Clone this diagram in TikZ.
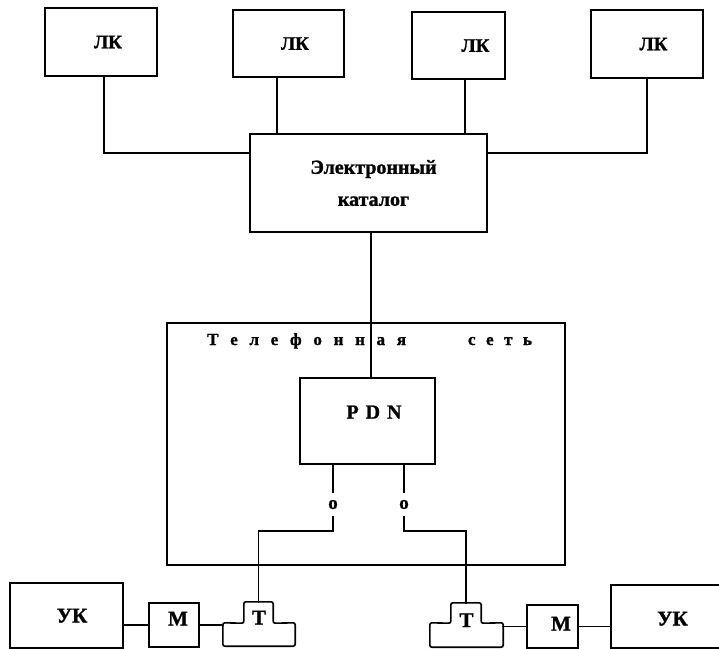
\documentclass[tikz,border=0pt]{standalone}
\usepackage{fontspec}
\setmainfont{Liberation Serif}[BoldFeatures={FakeBold=1.2}]
\usetikzlibrary{calc}
\newcommand\offtext[3]{\raisebox{#2}[0pt][0pt]{\hspace*{#1}#3\hspace*{-#1}}}
\newcommand\ls{\hspace{11.7bp}}
\newcommand\lsw{\hspace{10.5bp}}
\tikzset{
  ln/.style={line width=1.6bp, line cap=rect},
  box/.style={draw, line width=1.6bp, inner sep=0pt, font=\bfseries\fontsize{19bp}{22bp}\selectfont},
  lowbox/.style={draw, line width=1.6bp, inner sep=0pt, font=\bfseries\fontsize{21bp}{24bp}\selectfont},
  bare/.style={inner sep=0pt, font=\bfseries\fontsize{21bp}{24bp}\selectfont},
  olabel/.style={inner sep=0pt, minimum height=25bp, minimum width=10bp, font=\bfseries\fontsize{19bp}{20bp}\selectfont},
  titletext/.style={inner sep=0pt, font=\bfseries\fontsize{17bp}{20bp}\selectfont},
}
\begin{document}
\begin{tikzpicture}[x=1bp,y=-1bp]
\useasboundingbox (0,0) rectangle (719,649);
% top row
\node[box, minimum width=112bp, minimum height=68bp] (lk1) at (101,42) {\offtext{7bp}{-6.3bp}{ЛК}};
\node[box, minimum width=111bp, minimum height=67bp] (lk2) at (288.5,43.5) {\offtext{6.5bp}{-6.3bp}{ЛК}};
\node[box, minimum width=93bp, minimum height=67bp] (lk3) at (458.5,45.5) {\offtext{17bp}{-6.3bp}{ЛК}};
\node[box, minimum width=112bp, minimum height=68bp] (lk4) at (647,44) {\offtext{6.5bp}{-6.3bp}{ЛК}};
% catalog
\node[box, minimum width=237bp, minimum height=98bp, align=center,
      font=\bfseries\fontsize{20bp}{32bp}\selectfont] (cat) at (368.5,183)
      {\hspace*{10bp}Электронный\\\hspace*{10bp}каталог};
% telephone network
\node[draw, line width=1.6bp, inner sep=0pt, minimum width=398bp, minimum height=242bp] (tel) at (366,444) {};
\node[titletext, anchor=base west] (title) at (207,345)
  {Т\ls е\ls л\ls е\ls ф\ls о\ls н\ls н\ls а\ls я\hspace{62bp}с\lsw е\lsw т\lsw ь};
\node[box, minimum width=135bp, minimum height=86bp, font=\bfseries\fontsize{20bp}{22bp}\selectfont] (pdn) at (367.5,421)
  {\offtext{6.5bp}{2.4bp}{P\hspace{7bp}D\hspace{7bp}N}};
\node[olabel] (oL) at (333,504.5) {o};
\node[olabel] (oR) at (404,504.5) {o};
\coordinate (bL) at (333,531);
\coordinate (bR) at (404,531);
% bottom row
\node[lowbox, minimum width=113bp, minimum height=65bp] (ukL) at (66.5,615.5) {\offtext{5.5bp}{-7bp}{УК}};
\node[lowbox, minimum width=50bp, minimum height=44bp] (mL) at (174,625) {\offtext{4bp}{-0.5bp}{М}};
\node[bare, minimum width=29bp, minimum height=21bp] (tLtop) at (258.5,612.5) {\offtext{0.5bp}{-12bp}{Т}};
\node[inner sep=0pt, minimum width=72bp, minimum height=23bp] (tLbot) at (259,634.5) {};
\node[bare, minimum width=30bp, minimum height=20bp] (tRtop) at (466,613) {\offtext{0.5bp}{-14bp}{Т}};
\node[inner sep=0pt, minimum width=73bp, minimum height=24bp] (tRbot) at (466.5,635) {};
\node[lowbox, minimum width=51bp, minimum height=43bp] (mR) at (552.5,626.5) {\offtext{8.5bp}{-4bp}{М}};
\node[bare, minimum width=108bp, minimum height=63bp] (ukR) at (665,616.5) {\offtext{7.5bp}{-9bp}{УК}};
% T shapes
\draw[ln, rounded corners=2bp] (tLbot.north west) -- (tLtop.south west) -- (tLtop.north west) -- (tLtop.north east)
  -- (tLtop.south east) -- (tLbot.north east) -- (tLbot.south east) -- (tLbot.south west) -- cycle;
\draw[ln, rounded corners=2bp] (tRbot.north west) -- (tRtop.south west) -- (tRtop.north west) -- (tRtop.north east)
  -- (tRtop.south east) -- (tRbot.north east) -- (tRbot.south east) -- (tRbot.south west) -- cycle;
% right UK box, open to the right
\draw[ln] (ukR.north east) -- (ukR.north west) -- (ukR.south west) -- (ukR.south east);
% connectors top
\draw[ln] ($(lk1.south west)!0.527!(lk1.south east)$) |- ($(cat.north west)!0.2!(cat.south west)$);
\draw[ln] ($(lk2.south west)!0.4!(lk2.south east)$) coordinate (a2) -- (a2 |- cat.north);
\draw[ln] ($(lk3.south west)!0.57!(lk3.south east)$) coordinate (a3) -- (a3 |- cat.north);
\draw[ln] (lk4.south) |- ($(cat.north east)!0.2!(cat.south east)$);
\draw[ln] ($(cat.south west)!0.51!(cat.south east)$) coordinate (a5) -- (a5 |- pdn.north);
% connectors PDN to T
\draw[ln] (oL.north |- pdn.south) -- (oL.north);
\draw[ln] (oR.north |- pdn.south) -- (oR.north);
\draw[ln] (oL.south) -- (bL) -| (tLtop.north);
\draw[ln] (oR.south) -- (bR) -| (tRtop.north);
% bottom connectors
\draw[ln] (mL.west) -- (mL.west -| ukL.east);
\draw[ln] (mL.east) -- (mL.east -| tLbot.west);
\draw[ln] (mR.west) -- (mR.west -| tRbot.east);
\draw[ln] (mR.east) -- (mR.east -| ukR.west);
\end{tikzpicture}
\end{document}
